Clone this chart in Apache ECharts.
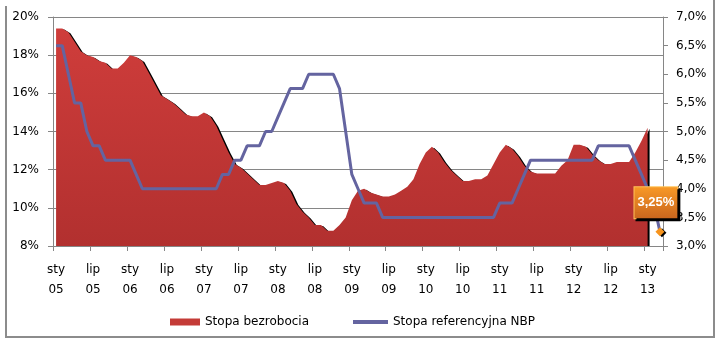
<!DOCTYPE html>
<html>
<head>
<meta charset="utf-8">
<script src="https://cdn.jsdelivr.net/npm/echarts@6/dist/echarts.min.js"></script>
<style>
html,body{margin:0;padding:0;background:#fff;}
#chart{width:722px;height:344px;}
</style>
</head>
<body>
<div id="chart"></div>
<script>
// Month abbreviations (Polish) and the span of the chart: Jan 2005 .. Mar 2013
const monthNames = ['sty','lut','mar','kwi','maj','cze','lip','sie','wrz','paź','lis','gru'];
const startYear = 2005, monthCount = 99;
const categories = [];
for (let i = 0; i < monthCount; i++) {
  const y = startYear + Math.floor(i / 12);
  categories.push(monthNames[i % 12] + '\n' + String(y % 100).padStart(2, '0'));
}

// Stopa bezrobocia (%), Jan 2005 .. Jan 2013
const unemployment = [
  19.4, 19.4, 19.2, 18.7, 18.2, 18.0, 17.9, 17.7, 17.6, 17.3, 17.3, 17.6,
  18.0, 17.9, 17.7, 17.1, 16.5, 15.9, 15.7, 15.5, 15.2, 14.9, 14.8, 14.8,
  15.0, 14.8, 14.3, 13.6, 12.9, 12.3, 12.1, 11.8, 11.5, 11.2, 11.2, 11.3,
  11.4, 11.3, 10.9, 10.2, 9.8, 9.5, 9.1, 9.1, 8.8, 8.8, 9.1, 9.5,
  10.4, 10.9, 11.0, 10.8, 10.7, 10.6, 10.6, 10.7, 10.9, 11.1, 11.5, 12.3,
  12.9, 13.2, 12.9, 12.4, 12.0, 11.7, 11.4, 11.4, 11.5, 11.5, 11.7, 12.3,
  12.9, 13.3, 13.1, 12.7, 12.2, 11.9, 11.8, 11.8, 11.8, 11.8, 12.2, 12.5,
  13.3, 13.3, 13.2, 12.8, 12.5, 12.3, 12.3, 12.4, 12.4, 12.4, 12.9, 13.5,
  14.2
];

// Stopa referencyjna NBP (%), Jan 2005 .. Mar 2013
const refRate = [
  6.5, 6.5, 6.0, 5.5, 5.5, 5.0, 4.75, 4.75, 4.5, 4.5, 4.5, 4.5,
  4.5, 4.25, 4.0, 4.0, 4.0, 4.0, 4.0, 4.0, 4.0, 4.0, 4.0, 4.0,
  4.0, 4.0, 4.0, 4.25, 4.25, 4.5, 4.5, 4.75, 4.75, 4.75, 5.0, 5.0,
  5.25, 5.5, 5.75, 5.75, 5.75, 6.0, 6.0, 6.0, 6.0, 6.0, 5.75, 5.0,
  4.25, 4.0, 3.75, 3.75, 3.75, 3.5, 3.5, 3.5, 3.5, 3.5, 3.5, 3.5,
  3.5, 3.5, 3.5, 3.5, 3.5, 3.5, 3.5, 3.5, 3.5, 3.5, 3.5, 3.5,
  3.75, 3.75, 3.75, 4.0, 4.25, 4.5, 4.5, 4.5, 4.5, 4.5, 4.5, 4.5,
  4.5, 4.5, 4.5, 4.5, 4.75, 4.75, 4.75, 4.75, 4.75, 4.75, 4.5, 4.25,
  4.0, 3.75, 3.25
];

const leftTicks = { min: 8, max: 20, step: 2 };
const rightTicks = { min: 3, max: 7, step: 0.5 };

const FONT = 'DejaVu Sans';
const GRAY = '#868686';
const fmtComma = (v, d) => v.toFixed(d).replace('.', ',');

const lastIdx = refRate.length - 1;
const rateData = refRate.map((v, i) => {
  if (i !== lastIdx) return v;
  return {
    value: v,
    symbol: 'diamond',
    symbolSize: 9,
    itemStyle: {
      color: '#f7941d', borderWidth: 0,
      shadowColor: '#000', shadowOffsetX: 2, shadowOffsetY: 1, shadowBlur: 0
    },
    label: {
      show: true,
      position: 'top',
      distance: 9,
      offset: [-4, 0],
      formatter: p => fmtComma(p.value, 2) + '%',
      color: '#fff',
      fontFamily: 'Liberation Sans',
      fontWeight: 'bold',
      fontSize: 13,
      lineHeight: 15,
      padding: [8, 3, 8, 3],
      backgroundColor: new echarts.graphic.LinearGradient(0, 0, 0, 1, [
        { offset: 0, color: '#f99a26' },
        { offset: 1, color: '#c9651e' }
      ]),
      borderColor: '#ffc35a',
      borderWidth: 1,
      shadowColor: '#000',
      shadowOffsetX: 2,
      shadowOffsetY: 2,
      shadowBlur: 0
    }
  };
});

const chart = echarts.init(document.getElementById('chart'), null, { renderer: 'canvas' });
chart.setOption({
  animation: false,
  backgroundColor: '#fff',
  textStyle: { fontFamily: FONT },
  grid: { left: 53, right: 59, top: 17, bottom: 98, containLabel: false },
  legend: [
    {
      data: ['Stopa bezrobocia'],
      left: 170, top: 316, padding: 0,
      icon: 'rect', itemWidth: 30, itemHeight: 7,
      textStyle: { fontFamily: FONT, fontSize: 12, color: '#000' }
    },
    {
      data: ['Stopa referencyjna NBP'],
      left: 353, top: 316, padding: 0,
      icon: 'rect', itemWidth: 35, itemHeight: 4,
      textStyle: { fontFamily: FONT, fontSize: 12, color: '#000' }
    }
  ],
  xAxis: {
    type: 'category',
    data: categories,
    boundaryGap: true,
    axisLine: { show: true, lineStyle: { color: GRAY, width: 1 } },
    axisTick: { show: true, interval: 5, alignWithLabel: false, length: 5, lineStyle: { color: GRAY } },
    axisLabel: { interval: 5, margin: 14, color: '#000', fontFamily: FONT, fontSize: 12, lineHeight: 20 },
    splitLine: { show: false }
  },
  yAxis: [
    {
      type: 'value',
      min: leftTicks.min, max: leftTicks.max, interval: leftTicks.step,
      axisLine: { show: true, lineStyle: { color: GRAY } },
      axisTick: { show: true, length: 5, lineStyle: { color: GRAY } },
      axisLabel: { margin: 14, color: '#000', fontFamily: FONT, fontSize: 12, formatter: v => v + '%' },
      splitLine: { show: true, lineStyle: { color: GRAY, width: 1 } }
    },
    {
      type: 'value',
      position: 'right',
      min: rightTicks.min, max: rightTicks.max, interval: rightTicks.step,
      axisLine: { show: true, lineStyle: { color: GRAY } },
      axisTick: { show: true, length: 5, lineStyle: { color: GRAY } },
      axisLabel: { margin: 13, color: '#000', fontFamily: FONT, fontSize: 12, formatter: v => fmtComma(v, 1) + '%' },
      splitLine: { show: false }
    }
  ],
  series: [
    {
      name: 'Stopa bezrobocia',
      type: 'line',
      yAxisIndex: 0,
      data: unemployment,
      symbol: 'none',
      lineStyle: { width: 0, opacity: 0 },
      itemStyle: { color: '#c43b37' },
      areaStyle: {
        color: new echarts.graphic.LinearGradient(0, 0, 0, 1, [
          { offset: 0, color: '#cf3d3b' },
          { offset: 1, color: '#b2302f' }
        ]),
        opacity: 1,
        shadowColor: '#000',
        shadowOffsetX: 2,
        shadowOffsetY: 1,
        shadowBlur: 0
      },
      z: 2
    },
    {
      name: 'Stopa referencyjna NBP',
      type: 'line',
      yAxisIndex: 1,
      data: rateData,
      symbol: 'none',
      showSymbol: true,
      showAllSymbol: true,
      lineStyle: { width: 3, color: '#6464a0' },
      itemStyle: { color: '#6464a0' },
      z: 3
    }
  ],
  graphic: [
    {
      type: 'polyline',
      silent: true,
      shape: { points: [[6, 6], [6, 337], [714, 337], [714, 0]] },
      style: { stroke: '#8c8c8c', lineWidth: 2, fill: null }
    }
  ]
});
</script>
</body>
</html>
